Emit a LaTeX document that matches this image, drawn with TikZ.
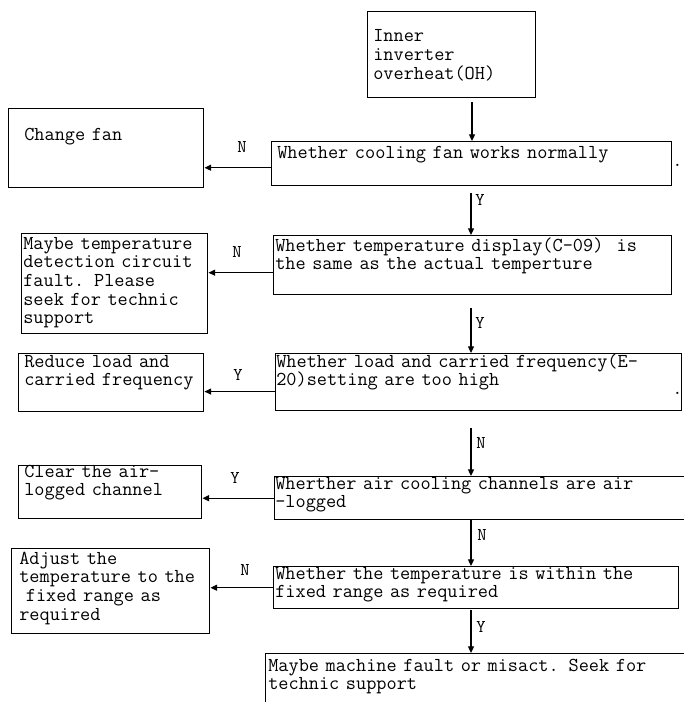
\documentclass[tikz,border=0pt]{standalone}
\usepackage{fontspec}
\usetikzlibrary{arrows.meta}

\tikzset{
  box/.style={draw, line width=1.1pt, anchor=north west, inner sep=0pt},
  txt/.style={anchor=base west, inner sep=0pt, align=left, text width=320pt,
    font=\ttfamily\fontsize{14.8pt}{14pt}\selectfont},
  yn/.style={anchor=base west, inner sep=0pt, font=\ttfamily\fontsize{13.5pt}{13.5pt}\selectfont},
  arr/.style={line width=0.9pt, -{Triangle[length=5pt,width=4.5pt]}},
}

\begin{document}
\begin{tikzpicture}[x=0.75pt,y=0.75pt,yscale=-1]
\useasboundingbox (0,0) rectangle (683,702);

% boxes
\node[box, minimum width=126pt, minimum height=64.5pt] (oh) at (367,11) {};
\node[box, minimum width=300pt, minimum height=33pt] (q1) at (271,141) {};
\node[box, minimum width=146.25pt, minimum height=59.25pt] (fan) at (8,108) {};
\node[box, minimum width=298.5pt, minimum height=44.25pt] (q2) at (273,235) {};
\node[box, minimum width=139.5pt, minimum height=75pt] (sensor) at (21,233) {};
\node[box, minimum width=304.5pt, minimum height=42.75pt] (q3) at (275,353) {};
\node[box, minimum width=138.75pt, minimum height=43.5pt] (load) at (18,353) {};
\node[box, minimum width=315pt, minimum height=32.25pt] (q4) at (274,476) {};
\node[box, minimum width=137.25pt, minimum height=39.75pt] (air) at (18,465) {};
\node[box, minimum width=303.75pt, minimum height=31.5pt] (q5) at (273,566) {};
\node[box, minimum width=148.5pt, minimum height=63.75pt] (range) at (11,548) {};
\node[box, minimum width=322.5pt, minimum height=52.5pt] (fault) at (265,653) {};

% texts
\node[txt] (ohtxt) at (373,42) {Inner\\inverter\\overheat(OH)};
\node[txt] (q1txt) at (277,159) {Whether cooling fan works normally};
\node[txt] (q1dot) at (672,167) {.};
\node[txt] (fantxt) at (24,141) {Change fan};
\node[txt] (q2txt) at (275,251) {Whether temperature display(C-09)~ is\\the same as the actual temperture};
\node[txt] (sensortxt) at (23,249) {Maybe temperature\\detection circuit\\fault. Please\\seek for technic\\support};
\node[txt] (q3txt) at (276,367) {Whether load and carried frequency(E-\\20)setting are too high};
\node[txt] (q3dot) at (672,394) {.};
\node[txt] (loadtxt) at (24,367) {Reduce load and\\carried frequency};
\node[txt] (q4txt) at (275,489) {Wherther air cooling channels are air\\-logged};
\node[txt] (airtxt) at (24,477) {Clear the air-\\logged channel};
\node[txt] (q5txt) at (275,579) {Whether the temperature is within the\\fixed range as required};
\node[txt] (rangetxt) at (19,564) {Adjust the\\temperature to the\\~fixed range as\\required};
\node[txt] (faulttxt) at (268,671) {Maybe machine fault or misact. Seek for\\technic support};

% down the main column
\coordinate (s0) at (472,102);
\coordinate (s1) at (471,193);
\coordinate (s2) at (471,308);
\coordinate (s3) at (471,428);
\coordinate (s4) at (471,519);
\coordinate (s5) at (471,610);
\draw[arr] (s0) -- (s0 |- q1.north);
\draw[arr] (s1) -- (s1 |- q2.north);
\draw[arr] (s2) -- (s2 |- q3.north);
\draw[arr] (s3) -- (s3 |- q4.north);
\draw[arr] (s4) -- (s4 |- q5.north);
\draw[arr] (s5) -- (s5 |- fault.north);

% branches to the left (yshift runs upwards here, hence the signs)
\draw[arr] ([yshift=3pt]q1.west) -- ([yshift=3pt]fan.east |- q1.west);
\draw[arr] ([yshift=5.6pt]q2.west) -- ([yshift=5.6pt]sensor.east |- q2.west);
\draw[arr] ([yshift=7pt]q3.west) -- ([yshift=7pt]load.east |- q3.west);
\draw[arr] (q4.west) -- (air.east |- q4.west);
\draw[arr] (q5.west) -- (range.east |- q5.west);

% answers
\node[yn] (n1) at (237,153) {N};
\node[yn] (y1) at (475,205) {Y};
\node[yn] (n2) at (232,257) {N};
\node[yn] (y2) at (475,328) {Y};
\node[yn] (y3) at (233,380) {Y};
\node[yn] (n3) at (476,448) {N};
\node[yn] (y4) at (230,483) {Y};
\node[yn] (n4) at (477,540) {N};
\node[yn] (n5) at (240,575) {N};
\node[yn] (y5) at (476,632) {Y};

\end{tikzpicture}
\end{document}
